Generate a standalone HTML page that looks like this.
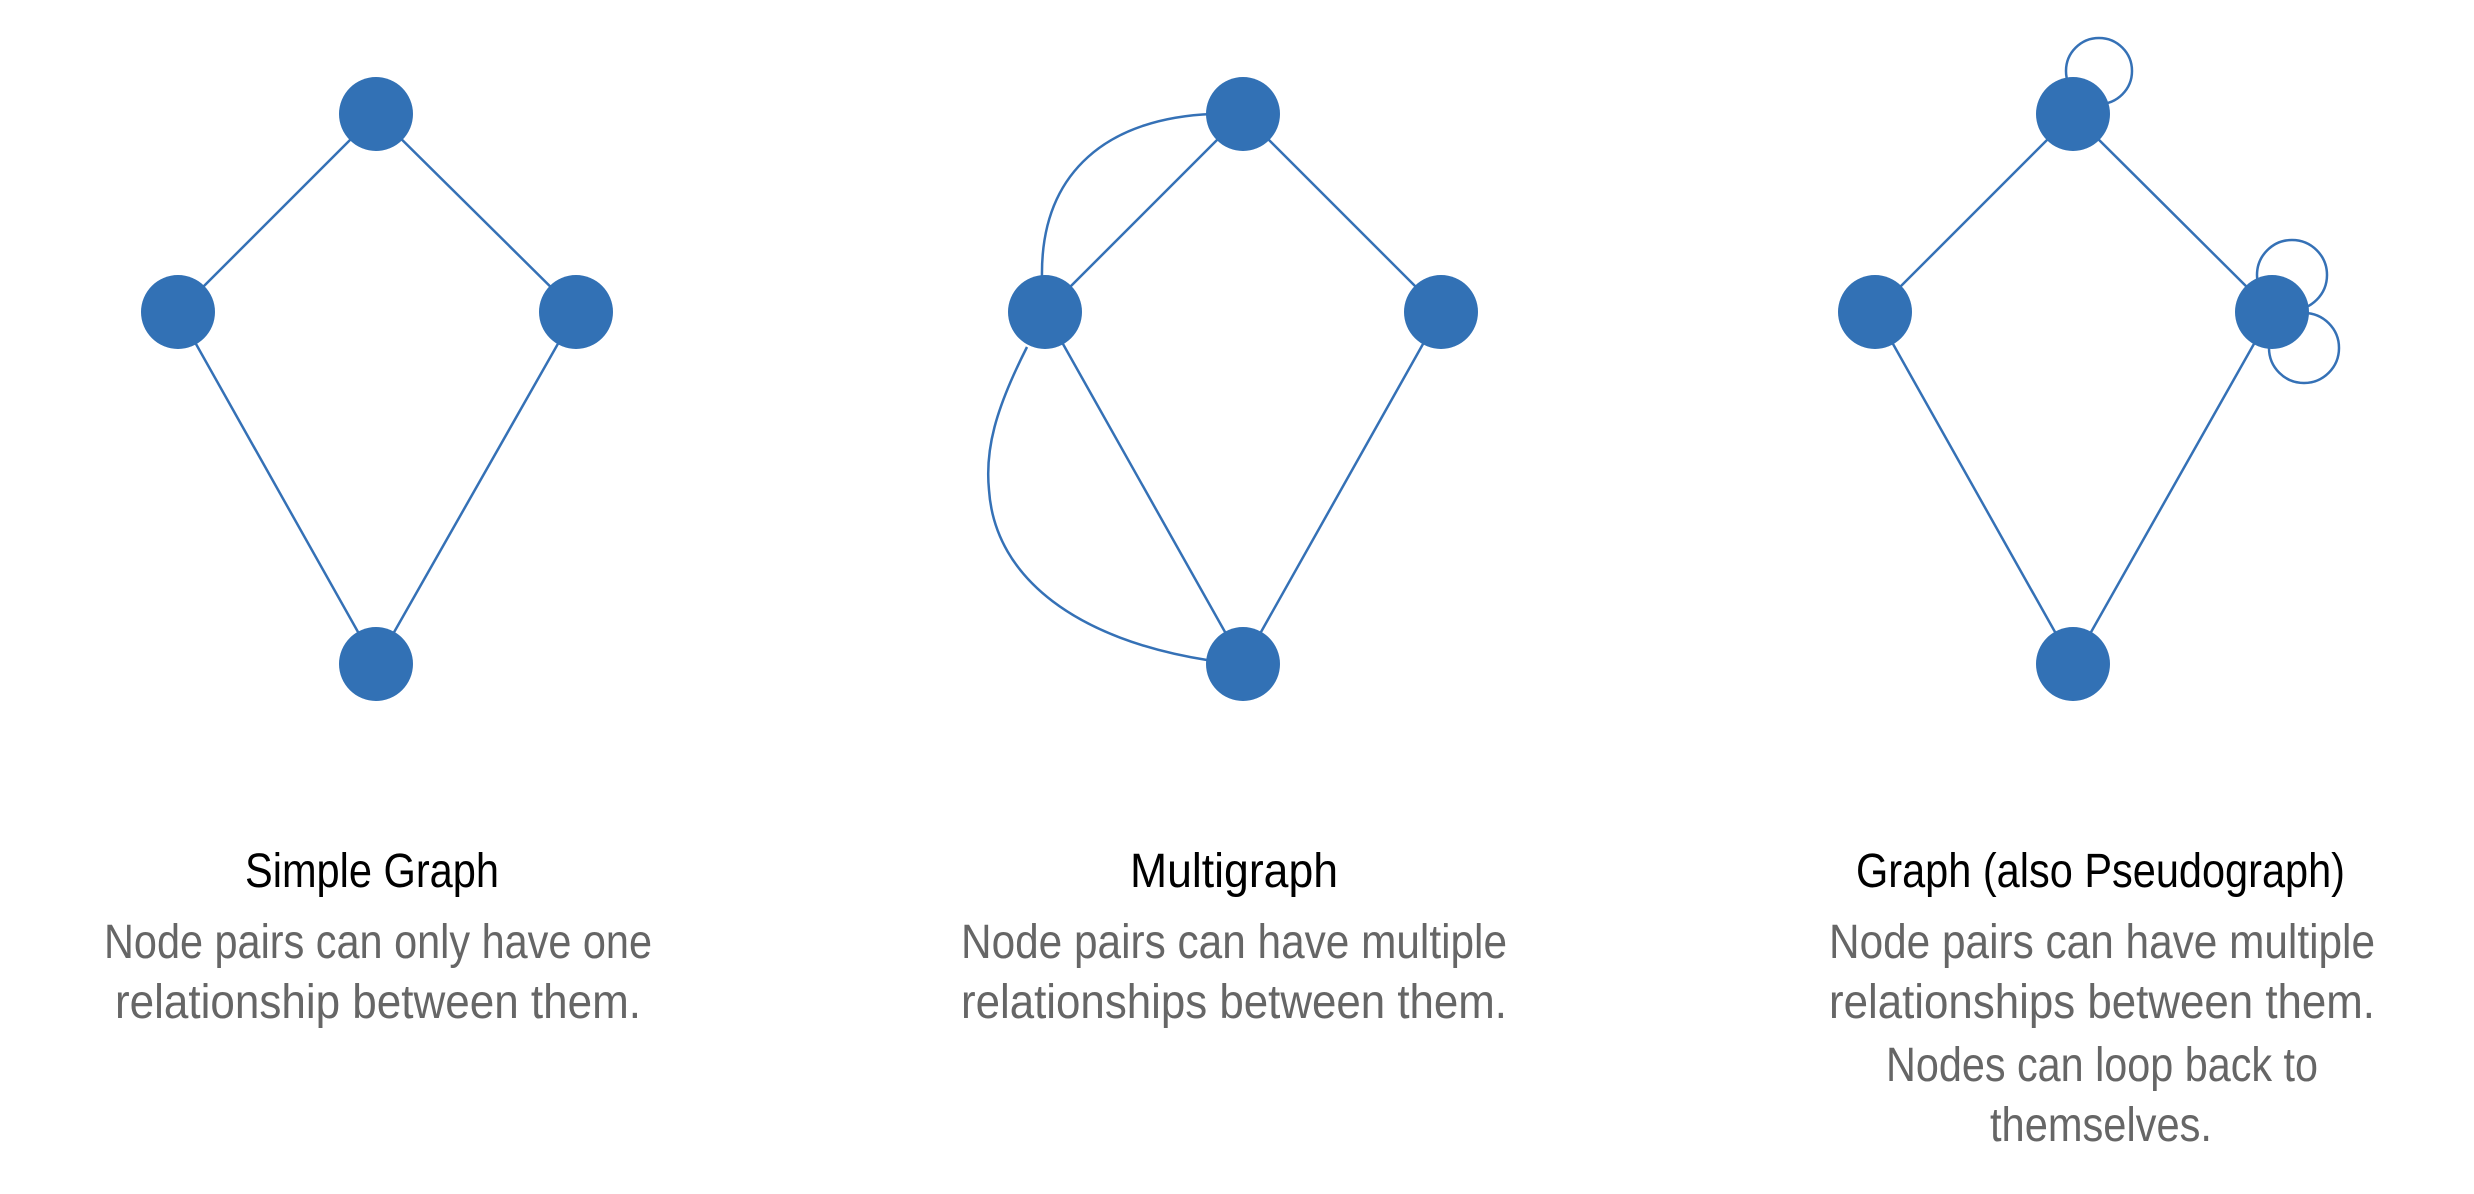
<!DOCTYPE html>
<html><head><meta charset="utf-8"><style>html,body{margin:0;padding:0;background:#fff}svg{display:block}</style></head>
<body>
<svg width="2474" height="1194" viewBox="0 0 2474 1194" xmlns="http://www.w3.org/2000/svg">
<g stroke="#3571b6" stroke-width="2.5" fill="none">
<path d="M376,114 L178,312 L376,664 L576,312 Z"/>
<path d="M1243,114 L1045,312 L1243,664 L1441,312 Z"/>
<path d="M1042,278 C1040,170 1110,118 1212,114"/>
<path d="M1027,347 C995,410 985,450 989,490 C995,580 1080,640 1207,660"/>
<path d="M2073,114 L1875,312 L2073,664 L2272,312 Z"/>
<circle cx="2099" cy="71" r="33"/>
<circle cx="2292" cy="275" r="35"/>
<circle cx="2304" cy="348" r="35"/>
</g>
<g fill="#3271b5">
<circle cx="376" cy="114" r="37"/><circle cx="178" cy="312" r="37"/><circle cx="576" cy="312" r="37"/><circle cx="376" cy="664" r="37"/>
<circle cx="1243" cy="114" r="37"/><circle cx="1045" cy="312" r="37"/><circle cx="1441" cy="312" r="37"/><circle cx="1243" cy="664" r="37"/>
<circle cx="2073" cy="114" r="37"/><circle cx="1875" cy="312" r="37"/><circle cx="2272" cy="312" r="37"/><circle cx="2073" cy="664" r="37"/>
</g>
<g font-family="'Liberation Sans Narrow','Liberation Sans',sans-serif" font-size="48">
<text x="245" y="887" textLength="254" lengthAdjust="spacingAndGlyphs" fill="#000">Simple Graph</text>
<text x="1130" y="887" textLength="208" lengthAdjust="spacingAndGlyphs" fill="#000">Multigraph</text>
<text x="1856" y="887" textLength="489" lengthAdjust="spacingAndGlyphs" fill="#000">Graph (also Pseudograph)</text>
<g fill="#666">
<text x="104" y="958" textLength="548" lengthAdjust="spacingAndGlyphs">Node pairs can only have one</text>
<text x="115" y="1018" textLength="526" lengthAdjust="spacingAndGlyphs">relationship between them.</text>
<text x="961" y="958" textLength="546" lengthAdjust="spacingAndGlyphs">Node pairs can have multiple</text>
<text x="961" y="1018" textLength="546" lengthAdjust="spacingAndGlyphs">relationships between them.</text>
<text x="1829" y="958" textLength="546" lengthAdjust="spacingAndGlyphs">Node pairs can have multiple</text>
<text x="1829" y="1018" textLength="546" lengthAdjust="spacingAndGlyphs">relationships between them.</text>
<text x="1886" y="1081" textLength="432" lengthAdjust="spacingAndGlyphs">Nodes can loop back to</text>
<text x="1990" y="1141" textLength="222" lengthAdjust="spacingAndGlyphs">themselves.</text>
</g>
</g>
</svg>
</body></html>
